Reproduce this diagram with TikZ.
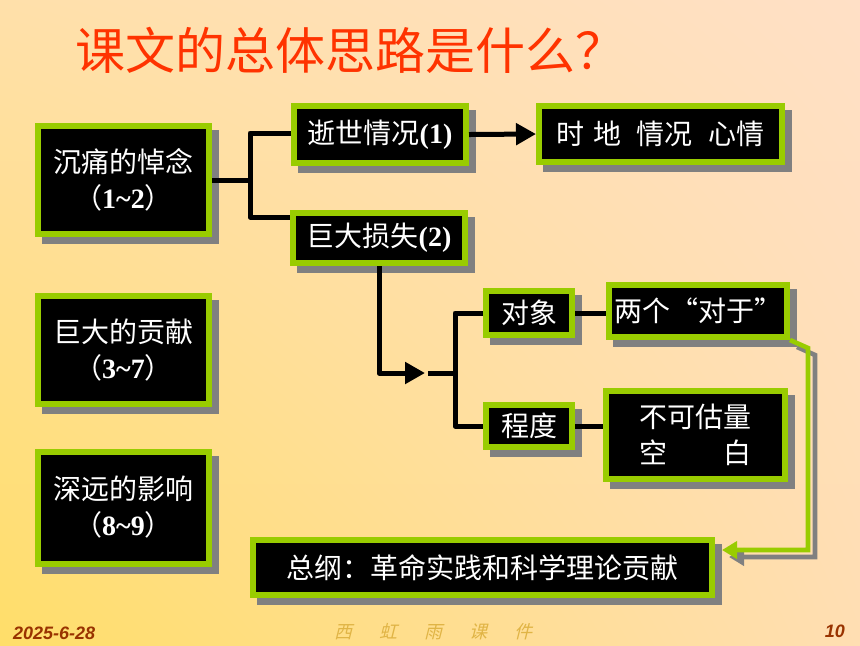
\documentclass[tikz,border=0pt]{standalone}
\usepackage{fontspec}
\setmainfont{Liberation Serif}
\setsansfont{Liberation Sans}
\newfontfamily\cjk{Noto Sans CJK SC}
\newfontfamily\cjkslant{Noto Sans CJK SC}[FakeSlant=0.25]
\usetikzlibrary{arrows.meta,shadows,shadings}
\definecolor{mygreen}{HTML}{99CC00}
\definecolor{myshadow}{HTML}{808080}
\definecolor{mytitle}{HTML}{FF3300}
\definecolor{mybrown}{HTML}{993300}
\definecolor{mygold}{HTML}{E0B445}
\definecolor{bgul}{RGB}{255,224,170}
\definecolor{bgur}{RGB}{255,224,198}
\definecolor{bgll}{RGB}{255,222,105}
\definecolor{bglr}{RGB}{255,222,178}
\newcommand{\nm}[1]{{\rmfamily\bfseries #1}}

\begin{document}
\begin{tikzpicture}[x=0.5pt,y=-0.5pt,
  BoxStyle/.style={draw=mygreen, line width=3pt, fill=black, text=white, inner sep=0pt, align=center,
    font=\cjk\fontsize{14}{18}\selectfont,
    drop shadow={shadow xshift=3.5pt, shadow yshift=-3.5pt, fill=myshadow, draw=myshadow, line width=3pt, opacity=1}},
  LinkStyle/.style={line width=2.5pt, line join=round},
  ArrowStyle/.style={LinkStyle, -{Triangle[length=10pt,width=10.5pt]}},
  GreenTip/.style={-{Triangle[length=7.5pt,width=8.5pt]}},
  GreenLink/.style={draw=mygreen, line width=2.3pt, line join=miter, GreenTip,
    preaction={draw=myshadow, line width=2.3pt, line join=miter, GreenTip, transform canvas={shift={(3.5pt,-3.5pt)}}}}]
\useasboundingbox (0,0) rectangle (860,645);
\shade[upper left=bgul, upper right=bgur, lower left=bgll, lower right=bglr] (0,0) rectangle (860,645);
% title
\node[text=mytitle, font=\cjk\fontsize{25}{30}\selectfont] (title) at (350,50) {课文的总体思路是什么？};
% left column
\node[BoxStyle, minimum width=85.5pt, minimum height=54pt] (grief) at (123.5,180) {沉痛的悼念\\{\cjk （}\nm{1\textasciitilde 2}{\cjk ）}};
\node[BoxStyle, minimum width=85.5pt, minimum height=54pt] (merit) at (123.5,350) {巨大的贡献\\{\cjk （}\nm{3\textasciitilde 7}{\cjk ）}};
\node[BoxStyle, minimum width=85.5pt, minimum height=56pt] (impact) at (123.5,507.5) {深远的影响\\{\cjk （}\nm{8\textasciitilde 9}{\cjk ）}};
% branches
\node[BoxStyle, minimum width=86pt, minimum height=28.5pt] (death) at (380,134.5) {逝世情况\nm{(1)}};
\node[BoxStyle, minimum width=86pt, minimum height=25pt] (loss) at (379,238) {巨大损失\nm{(2)}};
\node[BoxStyle, minimum width=121.5pt, minimum height=28pt] (when) at (660.5,134) {时\hspace{0.3em}地\hspace{0.55em}情况\hspace{0.55em}心情};
\node[BoxStyle, minimum width=43pt, minimum height=22pt] (object) at (529,313) {对象};
\node[BoxStyle, minimum width=43pt, minimum height=21pt] (degree) at (529,426) {程度};
\node[BoxStyle, minimum width=89pt, minimum height=26pt] (two) at (698,311) {两个“对于”};
\node[BoxStyle, minimum width=89.5pt, minimum height=44pt] (blank) at (695.5,435) {不可估量\\空　　白};
\node[BoxStyle, minimum width=229.5pt, minimum height=27.5pt] (sum) at (482.5,567.5) {总纲：革命实践和科学理论贡献};
% connectors
\coordinate (b1) at (250,133);
\coordinate (b2) at (250,217);
\coordinate (tip) at (425,373);
\coordinate (k0) at (428,373);
\coordinate (k) at (455,373);
\coordinate (g1) at (808,348);
\coordinate (g2) at (722,550);
\draw[LinkStyle] (grief.east) -- (grief.east -| b1);
\draw[LinkStyle] (death.west |- b1) -- (b1) -- (b2) -- (loss.west |- b2);
\draw[ArrowStyle] (death.east) -- (when.west);
\draw[ArrowStyle] (loss.south) |- (tip);
\draw[LinkStyle] (k0) -- (k);
\draw[LinkStyle] (object.west) -| (k) |- (degree.west);
\draw[LinkStyle] (object.east) -- (object.east -| two.west);
\draw[LinkStyle] (degree.east) -- (degree.east -| blank.west);
\draw[GreenLink] (two.south east) -- (g1) |- (g2);
% footer
\node[anchor=west, text=mybrown, font=\sffamily\bfseries\itshape\fontsize{9}{11}\selectfont] (date) at (6,633) {2025-6-28};
\node[text=mygold, font=\cjkslant\fontsize{9}{11}\selectfont] (brand) at (433,632) {西\hspace{1.5em}虹\hspace{1.5em}雨\hspace{1.5em}课\hspace{1.5em}件};
\node[anchor=east, text=mybrown, font=\sffamily\bfseries\itshape\fontsize{9}{11}\selectfont] (page) at (852,631) {10};
\end{tikzpicture}
\end{document}
